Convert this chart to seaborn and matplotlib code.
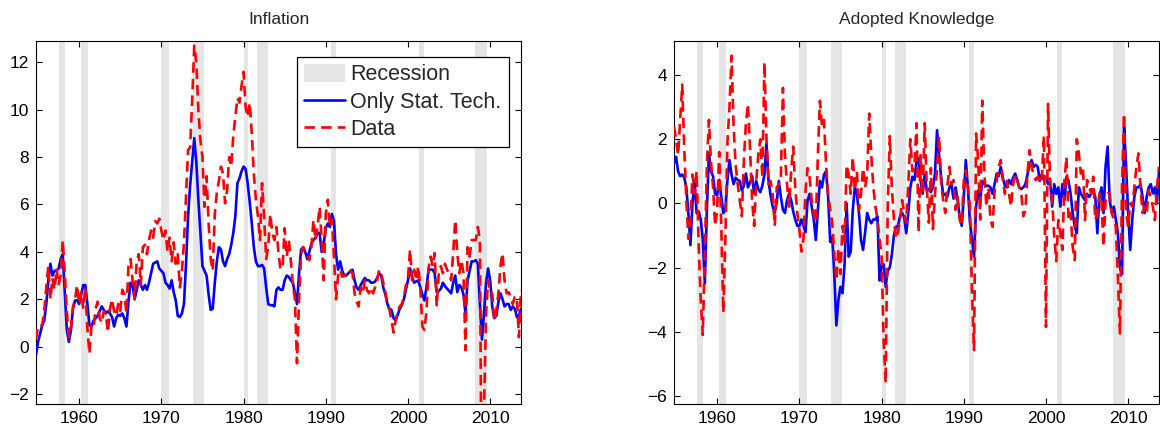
import numpy as np
import pandas as pd
import matplotlib
matplotlib.use("Agg")
import matplotlib.pyplot as plt
import seaborn as sns
from matplotlib.patches import Patch
from matplotlib.lines import Line2D

# ---------------- data (quarterly, 1954Q4 .. 2013Q4) ----------------
first_quarter = 1954.75
n_quarters = 237

infl_model = [
    -0.35, 0.2,
    0.55, 0.9, 1.1, 1.8,   2.8, 3.5, 3.0, 3.2,   3.2, 3.3, 3.7, 3.9,   2.3, 0.7, 0.2, 0.7,   1.6, 1.95, 1.95, 1.8,
    2.2, 2.6, 2.6, 1.8,    0.9, 0.85, 1.1, 1.2,  1.3, 1.5, 1.7, 1.55,  1.4, 1.5, 1.4, 1.25,  0.85, 1.2, 1.35, 1.3,
    1.4, 1.2, 0.85, 1.9,   2.7, 2.6, 2.0, 2.4,   2.8, 2.6, 2.4, 2.6,   2.4, 2.7, 3.1, 3.5,   3.55, 3.6, 3.3, 3.2,
    3.1, 2.7, 2.6, 2.45,   2.8, 2.3, 1.95, 1.3,  1.25, 1.4, 1.8, 3.5,  5.5, 6.8, 7.8, 8.8,   7.8, 6.2, 4.8, 3.4,
    3.2, 3.0, 2.2, 1.55,   1.6, 2.7, 3.6, 4.2,   4.1, 3.6, 3.4, 3.7,   3.9, 4.3, 4.8, 5.5,   6.9, 7.1, 7.4, 7.6,
    7.5, 6.9, 6.1, 5.2,    4.2, 3.6, 3.4, 3.4,   3.45, 3.3, 2.5, 1.8,  1.75, 1.75, 1.7, 2.4, 2.5, 2.4, 2.4, 2.8,
    3.0, 2.95, 2.8, 2.7,   2.25, 1.8, 3.1, 4.1,  4.2, 4.0, 3.7, 4.0,   4.35, 4.5, 4.6, 4.8,  4.8, 4.0, 4.35, 5.0,
    5.2, 5.05, 5.6, 5.3,   3.9, 3.25, 3.6, 3.2,  3.0, 3.0, 3.1, 3.2,   3.25, 2.8, 2.5, 2.4,  2.6, 2.75, 2.9, 2.8,
    2.8, 2.7, 2.7, 2.75,   2.9, 3.1, 3.0, 2.5,   2.2, 1.8, 1.6, 1.55,  1.2, 1.1, 1.35, 1.6,  1.75, 2.0, 2.4, 2.8,
    3.3, 2.95, 2.7, 2.75,  2.8, 2.5, 2.2, 1.95,  2.5, 3.25, 3.25, 3.25, 3.1, 2.3, 2.35, 2.45, 2.7, 2.55, 2.45, 2.35,
    2.25, 2.7, 3.0, 2.3,   2.6, 2.5, 2.2, 1.4,   2.8, 3.2, 3.6, 3.6,   3.65, 3.5, 1.8, 0.3,  1.4, 2.7, 3.3, 2.8,
    1.7, 1.2, 1.3, 1.9,    2.25, 2.0, 1.7, 1.8,  1.8, 1.55, 1.7, 1.6,  1.25, 1.3, 1.6,
]

infl_data = [
    0.3, 0.9,
    0.9, 0.9, 1.5, 2.5,    3.4, 2.0, 2.9, 2.4,   3.3, 2.6, 3.0, 4.5,   3.1, 1.5, 0.4, 0.8,   1.7, 2.0, 2.6, 1.8,
    2.3, 1.6, 2.5, 0.8,    -0.3, 0.9, 0.8, 1.6,  1.9, 1.2, 1.0, 1.5,   1.4, 0.6, 1.6, 2.0,   1.5, 1.3, 1.8, 1.5,
    2.4, 2.2, 1.4, 3.4,    3.7, 2.8, 2.0, 3.6,   3.9, 2.6, 4.2, 4.3,   3.9, 4.5, 4.9, 4.6,   5.3, 5.2, 5.4, 4.9,
    4.5, 4.9, 4.0, 4.6,    3.6, 4.4, 3.5, 3.9,   2.5, 3.2, 4.4, 6.3,   8.3, 8.4, 10.4, 12.7, 12.0, 10.0, 8.7, 8.0,
    5.9, 7.2, 5.2, 3.7,    3.2, 5.6, 6.5, 7.0,   7.6, 7.3, 6.05, 6.6,  8.0, 7.6, 8.9, 9.7,   10.5, 10.3, 11.0, 11.6,
    10.1, 9.7, 10.3, 9.0,  7.3, 6.2, 5.5, 4.5,   6.9, 5.5, 3.7, 4.2,   5.6, 4.8, 4.5, 5.05,  3.95, 3.25, 3.4, 5.0,
    3.8, 4.5, 3.65, 2.6,   2.0, -0.7, 2.0, 3.9,  4.2, 4.0, 3.9, 3.65,  4.2, 5.35, 4.5, 5.05, 5.9, 4.5, 2.8, 5.6,
    6.2, 5.05, 5.35, 3.8,  2.0, 3.0, 3.25, 2.95, 3.0, 3.1, 3.25, 3.2,  3.1, 2.25, 1.9, 1.7,  2.5, 2.25, 2.8, 2.4,
    2.25, 2.5, 2.25, 2.5,  2.8, 3.25, 3.1, 2.7,  2.3, 1.8, 1.55, 1.1,  0.6, 1.1, 1.5, 1.7,   1.8, 2.1, 2.6, 2.9,
    4.1, 2.8, 3.25, 2.8,   3.4, 2.5, 0.85, 0.7,  1.5, 3.3, 3.8, 3.4,   3.95, 1.7, 3.1, 3.4,  3.1, 3.5, 3.25, 3.1,
    2.8, 3.95, 5.35, 3.95, 3.1, 3.65, 3.1, -0.15, 4.2, 3.8, 4.5, 4.5,  4.5, 5.05, 4.5, -8.9, -2.7, 1.4, 2.8, 2.25,
    2.25, 1.1, 1.5, 2.25,  3.4, 3.95, 2.8, 2.25, 2.3, 2.1, 1.8, 2.1,   2.1, 0.4, 2.4,
]

know_model = [
    1.25, 1.45,
    1.0, 0.85, 0.9, 0.8,   0.5, -0.3, -1.3, 0.0,  0.7, -0.3, -0.25, -0.5, -1.1, -2.5, -0.2, 1.56, 1.0, 0.85, 0.3, 0.25,
    0.73, 0.2, -0.3, -0.2, 0.73, 1.35, 0.9, 0.6, 0.8, 0.73, 0.7, 0.4,   0.55, 0.93, 0.5, 0.65, 0.85, 0.31, 0.7, 0.45,
    0.35, 0.55, 0.9, 1.87, 0.7, 0.25, -0.1, -0.3, 0.05, 0.7, 0.2, -0.2, -0.3, 0.1, 0.3, 0.1,  -0.25, -0.5, -0.7, -0.7,
    -0.5, -0.7, -0.9, 0.1, 0.3, -0.1, -0.5, -1.14, -0.2, 0.7, 0.5, 0.9, 1.0, 0.2, -1.2, -1.05, -2.2, -3.8, -3.0, -2.6,
    -2.8, -1.9, 0.0, -1.66, -1.5, -0.2, 0.5, 0.3, -0.3, -1.14, -1.45, -0.9, -0.3, -0.5, -0.62, -0.5, -0.5, -0.4, -2.4, -1.9,
    -1.9, -2.6, -2.1, -2.0, -1.6, -1.0, -0.73, -0.7, -0.4, -0.3, -0.42, -0.93, -0.3, 0.5, 0.83, 0.73, 1.3, 1.4, 0.7, 0.3,
    0.9, 0.4, 0.45, 0.35,  0.5, 0.93, 2.28, 1.5, 0.8, 0.25, 0.3, 0.2,  0.5, 0.6, 0.15, 0.5,  0.1, -0.4, -0.7, 0.2,
    1.35, 0.5, -0.6, -1.14, -1.66, -0.1, 0.4, 0.1, 0.7, 0.6, 0.55, 0.55, 0.5, 0.3, 0.6, 0.93, 0.85, 1.14, 0.8, 0.55,
    0.5, 0.73, 0.6, 0.8,   0.93, 0.73, 0.5, 0.45, 0.5, 0.6, 0.9, 1.2,  1.35, 1.14, 1.2, 1.14, 0.7, 0.9, 0.73, 0.8,
    0.6, 0.7, -0.1, 0.6,   0.3, 0.5, -0.1, 0.6,  0.1, 0.83, 0.7, 0.3,  -0.3, -0.73, -0.93, 0.5, 0.3, 0.2, 0.1, 0.3,
    0.2, 0.3, 0.4, 0.2,    -0.93, 0.2, 0.5, -0.3, 1.14, 1.77, 0.1, -0.3, -0.1, -0.5, -0.93, -2.0, -2.2, 2.4, 1.14, -0.3,
    -1.45, -0.5, 0.2, 0.5, 0.5, 0.6, 0.2, -0.3, 0.2, 0.5, 0.6, 0.31,  0.5, 0.0, 1.0,
]

know_data = [
    2.4, 2.0,
    1.5, 2.6, 3.7, 1.7,    0.1, -1.1, -0.5, 0.9, 0.3, 1.0, -1.3, -3.0, -4.1, -1.6, 1.2, 2.6,  1.3, 0.5, -0.7, -0.2,
    1.6, -0.7, -3.4, -1.1, 1.9, 3.0, 4.6, 2.4,  1.2, 0.6, 0.1, -0.4,  1.35, 2.5, 3.1, 1.7,  0.1, -0.7, 0.7, 1.5,
    2.0, 0.8, 4.4, 2.0,    0.6, 0.7, 0.3, -0.7,  0.5, 0.6, 0.8, 3.6,   1.5, 0.6, -0.1, 1.0,  1.77, 0.5, -0.3, -0.8,
    -1.5, -1.1, 0.4, 1.1,  0.8, 0.1, -0.3, -0.6, 1.5, 3.2, 2.4, 2.6,   1.2, 0.3, -0.2, -0.6, -1.6, -2.4, -1.4, -2.2,
    -0.7, -1.2, 1.2, 0.9,  0.3, 1.45, 0.4, 1.0,  -0.2, 0.3, 1.1, 0.5,  0.9, 2.8, 1.5, 0.5,   -0.1, -0.5, -1.1, -1.6,
    -4.3, -5.6, -0.1, 2.1, 0.5, -0.5, -1.1, -0.9, -0.5, 0.1, -0.3, -0.6, 0.6, 2.0, 1.0, 1.14, 2.5, -0.9, 1.5, 0.3,
    2.5, 0.5, -0.6, 1.1,   -0.8, 0.3, 1.1, 2.1,  0.6, 0.1, -0.3, 0.5,  1.14, 0.6, 0.73, -0.2, 0.2, -0.5, -0.7, 0.7,
    1.04, 0.5, -0.1, -2.8, -4.57, 2.18, 1.35, -0.5, 3.2, 1.0, -0.1, 0.5, -0.5, -0.73, 0.4, 0.7, 1.14, 1.35, 0.73, 0.3,
    0.7, 0.3, -0.1, 0.6,   0.9, 0.73, 0.5, 0.3,  -0.4, -0.2, 0.93, 1.66, 1.14, 0.9, 0.73, 0.83, 0.62, 0.8, 2.1, -3.85,
    3.1, 0.6, 0.1, -1.0,   -1.8, -0.52, -0.93, -1.45, 0.73, 1.45, -0.52, -0.3, -1.35, -1.77, 2.0, 1.56, 0.93, 1.14, -0.52, 0.73,
    0.52, 0.31, 0.83, -0.52, -0.3, 0.31, 0.1, -1.35, 0.1, 0.31, 0.31, -0.3, -0.52, -0.73, -2.3, -4.05, 0.5, 2.8, -0.3, -0.73,
    0.0, -0.1, 0.5, 1.14,  1.56, 0.5, -0.3, -0.1, -0.3, 0.4, 0.2, -0.1, -0.52, 0.5, 1.14,
]

rec_start = [1957.55, 1960.25, 1969.95, 1973.9, 1980.05, 1981.6, 1990.6, 2001.3, 2008.1]
rec_end = [1958.25, 1961.1, 1970.9, 1975.2, 1980.6, 1982.95, 1991.3, 2002.0, 2009.65]

titles = ["Inflation", "Adopted Knowledge"]
legend_labels = ["Recession", "Only Stat. Tech.", "Data"]
xticks = [1960, 1970, 1980, 1990, 2000, 2010]

# ---------------- styling ----------------
sns.set_theme(style="ticks")
plt.rcParams["font.family"] = ["Liberation Sans", "DejaVu Sans"]
plt.rcParams["axes.unicode_minus"] = True

quarters = first_quarter + 0.25 * np.arange(n_quarters)
BLUE = (0.0, 0.0, 1.0)
RED = (1.0, 0.0, 0.0)
GREY = (0.898, 0.898, 0.898)
DASH = (4.0, 2.3)

fig = plt.figure(figsize=(11.6, 4.32), dpi=100)
ax1 = fig.add_axes([36 / 1160, 1 - 404 / 432, 485 / 1160, 363 / 432])
ax2 = fig.add_axes([674 / 1160, 1 - 404 / 432, 485 / 1160, 363 / 432])

panels = [
    (ax1, infl_model, infl_data, (-2.42, 12.9), np.arange(-2, 13, 2)),
    (ax2, know_model, know_data, (-6.25, 5.06), np.arange(-6, 5, 2)),
]

for (ax, model, data, ylim, yticks), title in zip(panels, titles):
    for s, e in zip(rec_start, rec_end):
        ax.axvspan(s, e, color=GREY, lw=0, zorder=0)
    df = pd.DataFrame({"t": quarters, "model": model, "data": data})
    sns.lineplot(data=df, x="t", y="model", ax=ax, color=BLUE, lw=1.9,
                 sort=False, errorbar=None, zorder=3)
    sns.lineplot(data=df, x="t", y="data", ax=ax, color=RED, lw=1.9,
                 sort=False, errorbar=None, zorder=4)
    ax.lines[-1].set_dashes(DASH)
    ax.set_xlim(quarters[0], quarters[-1])
    ax.set_ylim(*ylim)
    ax.set_xticks(xticks)
    ax.set_yticks(yticks)
    ax.set_xlabel("")
    ax.set_ylabel("")
    ax.set_title(title, fontsize=12.5, pad=12.5)
    ax.tick_params(direction="in", length=4, width=0.8, labelsize=12.5,
                   top=True, right=True, pad=5, colors="black")
    for sp in ax.spines.values():
        sp.set_visible(True)
        sp.set_color("black")
        sp.set_linewidth(0.8)

handles = [
    Patch(facecolor=GREY, edgecolor="none"),
    Line2D([], [], color=BLUE, lw=1.9),
    Line2D([], [], color=RED, lw=1.9, dashes=DASH),
]
leg = ax1.legend(handles, legend_labels, loc="upper right",
                 bbox_to_anchor=(0.9745, 0.956), fontsize=15.5, frameon=True,
                 fancybox=False, framealpha=1, edgecolor="black",
                 handlelength=1.9, handleheight=0.9, handletextpad=0.25,
                 borderpad=0.33, labelspacing=0.28, borderaxespad=0)
leg.get_frame().set_linewidth(0.9)

fig.savefig("out.png", dpi=100)
